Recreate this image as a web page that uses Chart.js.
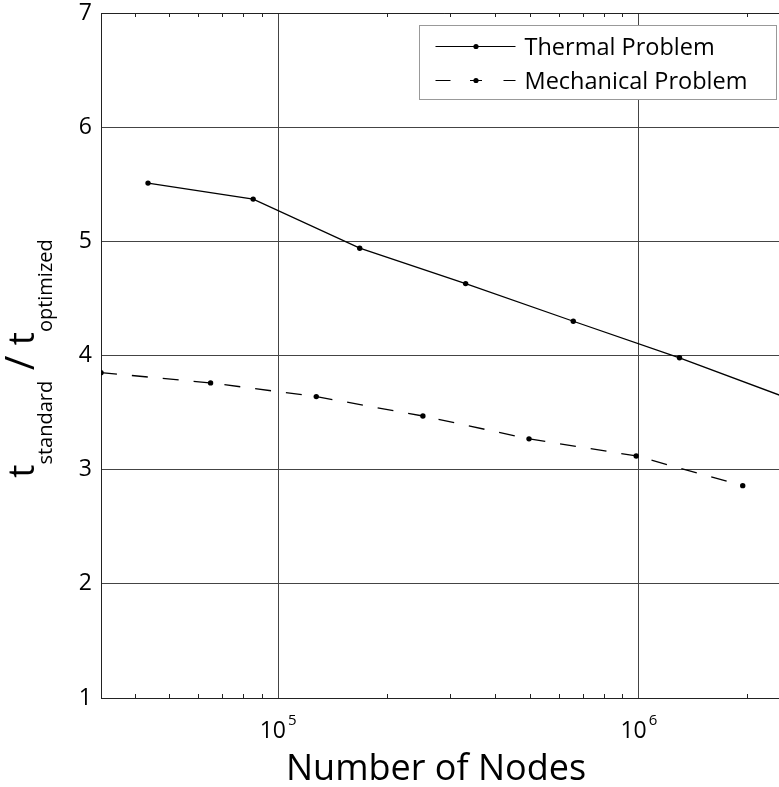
<!DOCTYPE html>
<html>
<head>
<meta charset="utf-8">
<script src="https://cdn.jsdelivr.net/npm/chart.js@4.4.0/dist/chart.umd.min.js"></script>
<style>
html, body { margin: 0; padding: 0; overflow: hidden; background: #fff; width: 779px; height: 787px; }
canvas { display: block; }
</style>
</head>
<body>
<canvas id="chart-area" width="792" height="787" style="width:792px;height:787px"></canvas>
<script>
// speed-up of the optimized solver vs. problem size

var thermalNodes = [43600, 85300, 168400, 331000, 658000, 1296000, 2590000];
var thermalRatio = [5.51, 5.37, 4.94, 4.63, 4.30, 3.98, 3.625];
var mechanicalNodes = [32300, 65000, 127600, 252000, 496000, 983000, 1940000];
var mechanicalRatio = [3.85, 3.76, 3.64, 3.47, 3.27, 3.12, 2.86];
var yTicks = [1, 2, 3, 4, 5, 6, 7];
var xMajorTicks = [100000, 1000000];
var seriesNames = ['Thermal Problem', 'Mechanical Problem'];
var xTitle = 'Number of Nodes';

var FONT = "'Open Sans', 'Noto Sans', sans-serif";

var isDecade = function(v) {
    var l = Math.log10(v);
    return Math.abs(l - Math.round(l)) < 1e-9;
};

var toPoints = function(xs, ys) {
    return xs.map(function(x, i) { return {x: x, y: ys[i]}; });
};

// frame, inward minor ticks, x labels, y title and legend
var decor = {
    id: 'decor',
    afterDraw: function(chart) {
        var ctx = chart.ctx, a = chart.chartArea, xs = chart.scales.x;
        ctx.save();

        ctx.strokeStyle = '#222';
        ctx.lineWidth = 1;
        ctx.beginPath();
        ctx.moveTo(a.left, a.top + 0.5);
        ctx.lineTo(a.right, a.top + 0.5);
        ctx.stroke();

        // minor ticks (log)
        ctx.beginPath();
        for (var d = 4; d <= 6; d++) {
            for (var m = 2; m <= 9; m++) {
                var v = m * Math.pow(10, d);
                if (v <= xs.min || v >= xs.max) continue;
                var px = Math.round(xs.getPixelForValue(v)) + 0.5;
                ctx.moveTo(px, a.bottom);
                ctx.lineTo(px, a.bottom - 4);
                ctx.moveTo(px, a.top);
                ctx.lineTo(px, a.top + 4);
            }
        }
        ctx.stroke();

        // x tick labels 10^n
        ctx.fillStyle = '#000';
        ctx.textBaseline = 'alphabetic';
        ctx.textAlign = 'left';
        xMajorTicks.forEach(function(v) {
            var px = xs.getPixelForValue(v);
            var exp = String(Math.round(Math.log10(v)));
            ctx.font = '23px ' + FONT;
            var w1 = ctx.measureText('10').width;
            ctx.font = '15px ' + FONT;
            var w2 = ctx.measureText(exp).width;
            var x0 = px - (w1 + w2 + 2) / 2;
            ctx.font = '23px ' + FONT;
            ctx.fillText('10', x0, a.bottom + 40);
            ctx.font = '15px ' + FONT;
            ctx.fillText(exp, x0 + w1 + 2, a.bottom + 27);
        });

        // x title
        ctx.font = '36px ' + FONT;
        ctx.textAlign = 'center';
        ctx.fillText(xTitle, 436, a.bottom + 82);

        // y title: t_standard / t_optimized
        var F = '37px ' + FONT, S = '20px ' + FONT, SL = '500 40px ' + FONT;
        var parts = [
            {t: 't', f: F, dy: 0},
            {t: 'standard', f: S, dy: 18},
            {t: ' / ', f: SL, dy: 0},
            {t: 't', f: F, dy: 0},
            {t: 'optimized', f: S, dy: 18}
        ];
        var total = 0;
        parts.forEach(function(p) { ctx.font = p.f; p.w = ctx.measureText(p.t).width; total += p.w; });
        ctx.translate(34, (a.top + a.bottom) / 2 + 3 + total / 2);
        ctx.rotate(-Math.PI / 2);
        ctx.textAlign = 'left';
        var cx = 0;
        parts.forEach(function(p) {
            ctx.font = p.f;
            ctx.fillText(p.t, cx, p.dy);
            cx += p.w;
        });
        ctx.setTransform(1, 0, 0, 1, 0, 0);

        // legend
        var bw = 357, bh = 74;
        var bx = Math.round(a.right - 12 - bw) + 0.5, by = Math.round(a.top + 12) + 0.5;
        ctx.fillStyle = '#fff';
        ctx.fillRect(bx, by, bw, bh);
        ctx.strokeStyle = '#999';
        ctx.strokeRect(bx, by, bw, bh);
        var rows = [by + 21, by + 55];
        var lx0 = bx + 16, lx1 = bx + 96, lmid = bx + 56.5;
        ctx.strokeStyle = '#000';
        ctx.fillStyle = '#000';
        ctx.lineWidth = 1.2;
        ctx.beginPath();
        ctx.moveTo(lx0, rows[0]); ctx.lineTo(lx1, rows[0]);
        ctx.moveTo(lx0, rows[1]); ctx.lineTo(lx0 + 15, rows[1]);
        ctx.moveTo(lmid - 6, rows[1]); ctx.lineTo(lmid + 6, rows[1]);
        ctx.moveTo(lx1 - 12, rows[1]); ctx.lineTo(lx1, rows[1]);
        ctx.stroke();
        rows.forEach(function(y) {
            ctx.beginPath();
            ctx.arc(lmid, y, 2.6, 0, Math.PI * 2);
            ctx.fill();
        });
        ctx.font = '23.5px ' + FONT;
        ctx.textAlign = 'left';
        ctx.fillText(seriesNames[0], bx + 105, rows[0] + 8.5);
        ctx.fillText(seriesNames[1], bx + 105, rows[1] + 8.5);

        ctx.restore();
    }
};

var config = {
    type: 'line',
    data: {
        datasets: [{
            label: seriesNames[0],
            data: toPoints(thermalNodes, thermalRatio),
            borderColor: '#000',
            backgroundColor: '#000',
            borderWidth: 1.3,
            pointRadius: 2.7,
            pointBorderWidth: 0,
            tension: 0
        }, {
            label: seriesNames[1],
            data: toPoints(mechanicalNodes, mechanicalRatio),
            borderColor: '#000',
            backgroundColor: '#000',
            borderWidth: 1.3,
            borderDash: [16, 15],
            pointRadius: 2.7,
            pointBorderWidth: 0,
            tension: 0
        }]
    },
    options: {
        responsive: false,
        animation: false,
        layout: { padding: { left: 0, right: 2, top: 13, bottom: 0 } },
        plugins: { legend: { display: false }, tooltip: { enabled: false } },
        scales: {
            x: {
                type: 'logarithmic',
                min: mechanicalNodes[0],
                max: thermalNodes[thermalNodes.length - 1],
                afterFit: function(s) { s.height = 89; s.paddingLeft = 0; s.paddingRight = 0; },
                ticks: { display: false },
                grid: {
                    drawTicks: false,
                    lineWidth: 1,
                    color: function(c) {
                        return c.tick && isDecade(c.tick.value) ? '#444' : 'rgba(0,0,0,0)';
                    }
                },
                border: { color: '#222' }
            },
            y: {
                min: yTicks[0],
                max: yTicks[yTicks.length - 1],
                afterFit: function(s) { s.width = 101; s.paddingTop = 0; s.paddingBottom = 0; },
                afterBuildTicks: function(s) { s.ticks = yTicks.map(function(v) { return {value: v}; }); },
                ticks: { color: '#000', padding: 9, font: { family: FONT, size: 23 } },
                grid: { drawTicks: false, color: '#444', lineWidth: 1 },
                border: { color: '#222' }
            }
        }
    },
    plugins: [decor]
};

var ctx = document.getElementById('chart-area').getContext('2d');
window.myChart = new Chart(ctx, config);
</script>
</body>
</html>
